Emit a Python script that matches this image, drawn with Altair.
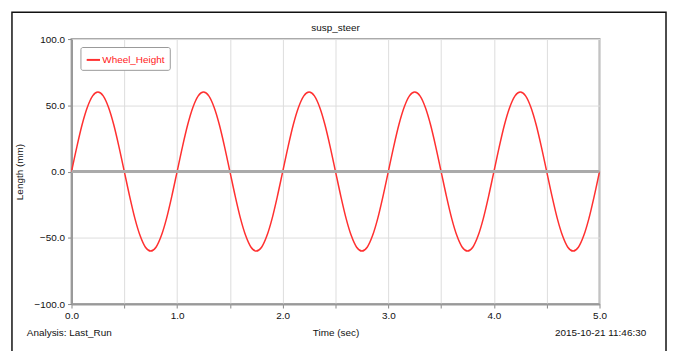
import altair as alt
import pandas as pd

# Time samples (sec), every 0.05 s from 0.0 to 5.0
time_s = [round(i * 0.05, 2) for i in range(101)]

# Wheel_Height (mm) at each sample
wheel_height = [
    0.0, 18.5, 35.3, 48.5, 57.1, 60.0, 57.1, 48.5, 35.3, 18.5,
    0.0, -18.5, -35.3, -48.5, -57.1, -60.0, -57.1, -48.5, -35.3, -18.5,
    0.0, 18.5, 35.3, 48.5, 57.1, 60.0, 57.1, 48.5, 35.3, 18.5,
    0.0, -18.5, -35.3, -48.5, -57.1, -60.0, -57.1, -48.5, -35.3, -18.5,
    0.0, 18.5, 35.3, 48.5, 57.1, 60.0, 57.1, 48.5, 35.3, 18.5,
    0.0, -18.5, -35.3, -48.5, -57.1, -60.0, -57.1, -48.5, -35.3, -18.5,
    0.0, 18.5, 35.3, 48.5, 57.1, 60.0, 57.1, 48.5, 35.3, 18.5,
    0.0, -18.5, -35.3, -48.5, -57.1, -60.0, -57.1, -48.5, -35.3, -18.5,
    0.0, 18.5, 35.3, 48.5, 57.1, 60.0, 57.1, 48.5, 35.3, 18.5,
    0.0, -18.5, -35.3, -48.5, -57.1, -60.0, -57.1, -48.5, -35.3, -18.5,
    0.0,
]

x_ticks = [0.0, 0.5, 1.0, 1.5, 2.0, 2.5, 3.0, 3.5, 4.0, 4.5, 5.0]
y_ticks = [-100, -75, -50, -25, 0, 25, 50, 75, 100]
series_name = "Wheel_Height"
chart_title = "susp_steer"
analysis_label = "Analysis:  Last_Run"
timestamp_label = "2015-10-21 11:46:30"

df = pd.DataFrame({"time": time_s, "height": wheel_height, "series": series_name})
one_row = pd.DataFrame({"k": [0]})

FONT = "Liberation Sans"
TXT = "#111111"
W, H = 532, 267

x_enc = alt.X(
    "time:Q",
    scale=alt.Scale(domain=[0, 5], nice=False),
    axis=alt.Axis(
        values=x_ticks,
        labelExpr="datum.value % 1 == 0 ? format(datum.value, '.1f') : ''",
        title="Time (sec)",
        titleFont=FONT, titleFontSize=10, titleFontWeight="normal", titleColor=TXT,
        titleY=29, titleBaseline="middle",
        labelFont=FONT, labelFontSize=10, labelColor=TXT, labelPadding=3,
        labelFlush=False,
        grid=True, gridColor="#dddddd", gridWidth=1,
        domainColor="#999999", domainWidth=2,
        tickColor="#888888", tickSize=4,
    ),
)
y_enc = alt.Y(
    "height:Q",
    scale=alt.Scale(domain=[-100, 100], nice=False),
    axis=alt.Axis(
        values=y_ticks,
        labelExpr="datum.value % 50 == 0 ? format(datum.value, '.1f') : ''",
        title="Length (mm)",
        titleFont=FONT, titleFontSize=10, titleFontWeight="normal", titleColor=TXT,
        titleX=-52, titleY=H / 2, titleAngle=-90, titleBaseline="middle", titleAlign="center",
        labelFont=FONT, labelFontSize=10, labelColor=TXT, labelPadding=3,
        labelFlush=False,
        grid=True, gridColor="#dddddd", gridWidth=1,
        domainColor="#999999", domainWidth=2,
        tickColor="#888888", tickSize=4,
    ),
)

frame = alt.Chart(one_row).mark_rect(
    filled=False, stroke="#111111", strokeWidth=1.5
).encode(
    x=alt.value(-60), x2=alt.value(599), y=alt.value(-27), y2=alt.value(400)
)

line = alt.Chart(df).mark_line(strokeWidth=1.5, interpolate="monotone").encode(
    x=x_enc,
    y=y_enc,
    color=alt.Color(
        "series:N",
        scale=alt.Scale(domain=[series_name], range=["#ff3030"]),
        legend=alt.Legend(
            title=None, orient="none", legendX=9, legendY=8,
            symbolType="stroke", symbolStrokeWidth=2, symbolSize=180,
            labelFont=FONT, labelFontSize=10, labelColor="#ff2020",
            strokeColor="#999999", fillColor="white", padding=5, cornerRadius=2,
            labelOffset=1,
        ),
    ),
)

zero_line = alt.Chart(one_row).mark_rule(color="#aaaaaa", strokeWidth=3).encode(
    y=alt.datum(0)
)

title_txt = alt.Chart(one_row).mark_text(
    font=FONT, fontSize=10, color=TXT, align="center", baseline="middle"
).encode(x=alt.value(W / 2), y=alt.value(-11), text=alt.value(chart_title))

analysis_txt = alt.Chart(one_row).mark_text(
    font=FONT, fontSize=10, color=TXT, align="left", baseline="middle"
).encode(x=alt.value(-45), y=alt.value(H + 29), text=alt.value(analysis_label))

stamp_txt = alt.Chart(one_row).mark_text(
    font=FONT, fontSize=10, color=TXT, align="right", baseline="middle"
).encode(x=alt.value(579), y=alt.value(H + 29), text=alt.value(timestamp_label))

chart = alt.layer(line, zero_line, frame, title_txt, analysis_txt, stamp_txt).properties(
    width=W, height=H,
    padding={"left": 64, "top": 30, "right": 68, "bottom": 46},
    autosize=alt.AutoSizeParams(type="none"),
    background="white",
).configure_view(stroke="#aaaaaa", strokeWidth=2)

chart.save("out.html", embed_options={"renderer": "svg", "actions": False})
